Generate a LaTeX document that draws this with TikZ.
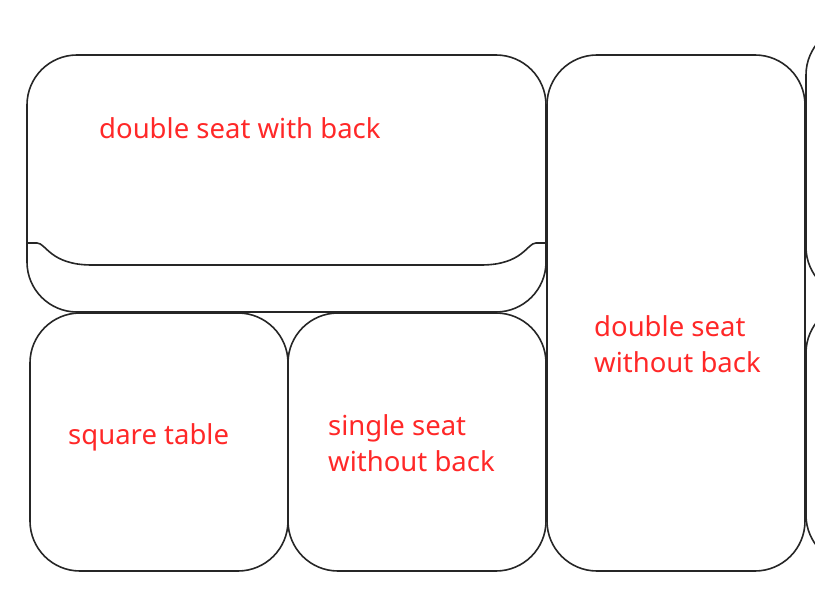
\documentclass[tikz,border=0pt]{standalone}
\usepackage{fontspec}
\setmainfont{Noto Sans}
\definecolor{lbl}{RGB}{255,40,40}
\begin{document}
\begin{tikzpicture}[x=1pt,y=-1pt,
  box/.style={draw=black!85,line width=1.6pt,rounded corners=50pt},
  backline/.style={draw=black!85,line width=1.6pt},
  lbl/.style={text=lbl,font=\fontsize{27.5}{36}\selectfont,anchor=west,align=left,inner sep=0pt}]
\useasboundingbox (0,0) rectangle (815,607);
\clip (0,0) rectangle (815,607);
% double seat with back
\draw[box] (27,55) rectangle (546,312);
\draw[backline] (27,243) -- (37,243) .. controls (46,243) and (50,265) .. (92,265) -- (481,265) .. controls (523,265) and (527,243) .. (536,243) -- (546,243);
% square table
\draw[box] (30,313) rectangle (288,571);
% single seat without back
\draw[box] (288,313) rectangle (546,571);
% double seat without back
\draw[box] (547,55) rectangle (805,571);
% partial boxes at right
\draw[box] (806,25) rectangle (1100,297);
\draw[box] (806,303) rectangle (1100,565);
% labels
\node[lbl] (t1) at (99,128) {double seat with back};
\node[lbl] (t2) at (68,437) {square table};
\node[lbl] (t3) at (328,443) {single seat\\without back};
\node[lbl] (t4) at (594,344) {double seat\\without back};
\end{tikzpicture}
\end{document}
